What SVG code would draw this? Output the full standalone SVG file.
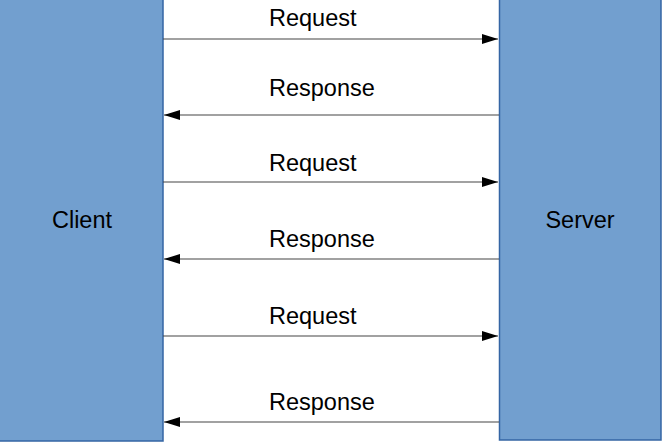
<svg xmlns="http://www.w3.org/2000/svg" width="662" height="447" viewBox="0 0 662 447">
<style>
.box{fill:#729fcf;stroke:#3465a4;stroke-width:1.5}
.lbl{font-family:"Liberation Sans",Arial,sans-serif;font-size:23.5px;fill:#000}
.c{stroke:#444;stroke-width:1.2;fill:none}
</style>
<defs>
<marker id="ah" viewBox="0 0 16 10" refX="16" refY="5" markerWidth="16" markerHeight="10" markerUnits="userSpaceOnUse" orient="auto">
<path d="M0,0 L16,5 L0,10 Z" fill="#000"/>
</marker>
</defs>
<g id="client"><rect class="box" x="-1" y="-1" width="164" height="442"/><text class="lbl" x="82" y="228" text-anchor="middle">Client</text></g>
<g id="server"><rect class="box" x="499.5" y="-1" width="161.5" height="441"/><text class="lbl" x="580" y="228" text-anchor="middle">Server</text></g>
<g id="connectors">
<line class="c" x1="163" y1="39" x2="498" y2="39" marker-end="url(#ah)"/>
<line class="c" x1="499" y1="115" x2="164" y2="115" marker-end="url(#ah)"/>
<line class="c" x1="163" y1="182" x2="498" y2="182" marker-end="url(#ah)"/>
<line class="c" x1="499" y1="259" x2="164" y2="259" marker-end="url(#ah)"/>
<line class="c" x1="163" y1="336" x2="498" y2="336" marker-end="url(#ah)"/>
<line class="c" x1="499" y1="422" x2="164" y2="422" marker-end="url(#ah)"/>
<text class="lbl" x="269" y="26">Request</text>
<text class="lbl" x="269" y="96">Response</text>
<text class="lbl" x="269" y="171">Request</text>
<text class="lbl" x="269" y="247">Response</text>
<text class="lbl" x="269" y="324">Request</text>
<text class="lbl" x="269" y="410">Response</text>
</g>
</svg>
